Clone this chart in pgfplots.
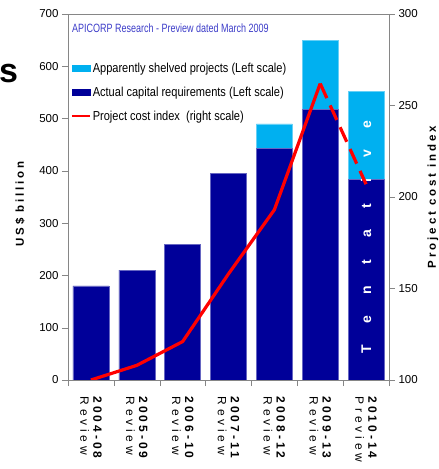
\documentclass[border=0pt]{standalone}
\usepackage{pgfplots}
\pgfplotsset{compat=1.18}
\usepackage{fontspec}
\setmainfont{Liberation Sans}
\newfontfamily\legfont[FakeStretch=0.85]{Liberation Sans}
\newfontfamily\titfont[FakeStretch=0.75]{Liberation Sans}
\newfontfamily\spaced[LetterSpace=25]{Liberation Sans}
\newfontfamily\spacedB[LetterSpace=32]{Liberation Sans}
\definecolor{darkbar}{RGB}{0,0,153}
\definecolor{lightbar}{RGB}{0,176,240}
\definecolor{axisgray}{RGB}{134,134,134}
\definecolor{titleblue}{RGB}{60,60,200}
\newcommand{\yr}[2]{{\spaced\bfseries #1}\\{\spacedB #2}}
\begin{document}
\begin{tikzpicture}
\path[use as bounding box] (0,0) rectangle (439pt,469pt);
\node[anchor=base west, inner sep=0pt, font=\fontsize{34}{34}\selectfont\bfseries] at (-1pt,386pt) {s};
\node[rotate=90, font=\spaced\bfseries\fontsize{11.5}{12}\selectfont] at (20pt,265pt) {US\$ billion};
\node[rotate=90, font=\spaced\bfseries\fontsize{11.5}{12}\selectfont] at (433pt,272pt) {Project cost index};
\begin{axis}[
  at={(68pt,89pt)}, anchor=south west,
  scale only axis, width=321pt, height=366pt,
  xmin=-0.5, xmax=6.5, ymin=0, ymax=700,
  ytick={0,100,...,700}, ytick pos=left, xtick pos=bottom,
  tick align=outside, major tick length=6pt, minor tick length=6pt,
  xtick={0,...,6},
  xticklabels={\yr{2004-08}{Review}, \yr{2005-09}{Review}, \yr{2006-10}{Review}, \yr{2007-11}{Review}, \yr{2008-12}{Review}, \yr{2009-13}{Review}, \yr{2010-14}{Preview}},
  major x tick style={draw=none},
  minor xtick={-0.5,0.5,...,6.5},
  minor x tick style={draw=axisgray},
  axis line style={axisgray},
  major y tick style={axisgray},
  /pgf/number format/assume math mode=true,
  yticklabel style={font=\fontsize{11.5}{12}\selectfont},
  xticklabel shift=7pt,
  xticklabel style={rotate=-90, anchor=west, align=left, font=\fontsize{12}{13}\selectfont},
  legend style={at={(0.008,0.872)}, anchor=north west, draw=none, fill=none,
    font=\legfont\fontsize{13}{13}\selectfont, row sep=9pt, inner sep=0pt,
    /tikz/every even column/.append style={column sep=4pt}},
  legend cell align=left,
]
\addplot[ybar, bar width=36pt, bar shift=0pt, fill=lightbar, draw=lightbar!60!white,
  legend image code/.code={\fill[lightbar] (0pt,-3pt) rectangle (18pt,3pt);}]
  coordinates {(4,490) (5,650) (6,552)};
\addlegendentry{Apparently shelved projects (Left scale)}
\addplot[ybar, bar width=36pt, bar shift=0pt, fill=darkbar, draw=darkbar!60!white,
  legend image code/.code={\fill[darkbar] (0pt,-3pt) rectangle (18pt,3pt);}]
  coordinates {(0,180) (1,210) (2,260) (3,395) (4,443) (5,518) (6,384)};
\addlegendentry{Actual capital requirements (Left scale)}
\addlegendimage{legend image code/.code={\draw[red, line width=2pt] (0pt,0pt) -- (18pt,0pt);}}
\addlegendentry{Project cost index\ \ (right scale)}
\node[anchor=west, inner sep=0pt, text=titleblue, font=\titfont\fontsize{12}{12}\selectfont] at (rel axis cs:0.012,0.962) {APICORP Research - Preview dated March 2009};
\node[rotate=90, text=white, font=\bfseries\fontsize{14}{14}\selectfont] at (axis cs:6,274) {\makebox[233pt]{T\hfill e\hfill n\hfill t\hfill a\hfill t\hfill i\hfill v\hfill e}};
\end{axis}
\begin{axis}[
  at={(68pt,89pt)}, anchor=south west,
  scale only axis, width=321pt, height=366pt,
  xmin=-0.5, xmax=6.5, ymin=100, ymax=300,
  axis x line=none, axis y line*=right,
  ytick={100,150,...,300},
  tick align=outside, major tick length=6pt,
  axis line style={axisgray}, major y tick style={axisgray},
  /pgf/number format/assume math mode=true,
  yticklabel style={font=\fontsize{11.5}{12}\selectfont},
]
\addplot[red, line width=3.2pt, line join=round, mark=none] coordinates {(0,100) (1,108) (2,121) (3,158) (4,193) (5,262)};
\addplot[red, line width=3.2pt, mark=none, dash pattern=on 16pt off 8pt] coordinates {(5,262) (6,207)};
\end{axis}
\end{tikzpicture}
\end{document}
